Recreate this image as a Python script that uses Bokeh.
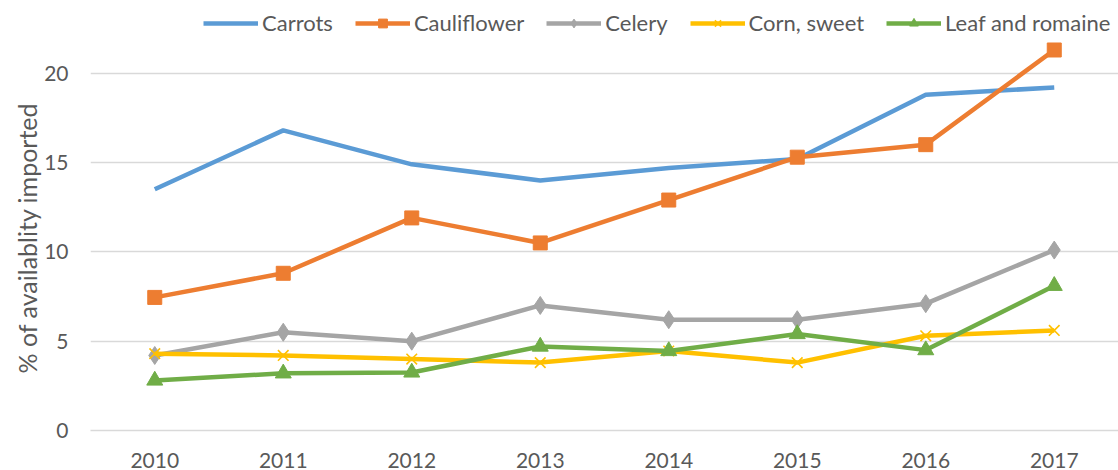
from bokeh.plotting import figure
from bokeh.models import Legend, LegendItem, FixedTicker, Range1d, Title
from bokeh.embed import file_html
from bokeh.resources import INLINE

years = [2010, 2011, 2012, 2013, 2014, 2015, 2016, 2017]
carrots = [13.5, 16.8, 14.9, 14.0, 14.7, 15.2, 18.8, 19.2]
cauliflower = [7.45, 8.8, 11.9, 10.5, 12.9, 15.3, 16.0, 21.3]
celery = [4.2, 5.5, 5.0, 7.0, 6.2, 6.2, 7.1, 10.1]
corn_sweet = [4.3, 4.2, 4.0, 3.8, 4.45, 3.8, 5.3, 5.6]
leaf_romaine = [2.8, 3.2, 3.25, 4.7, 4.45, 5.4, 4.5, 8.1]
y_ticks = [0, 5, 10, 15, 20]
y_title = "% of availablity imported"

FONT = "Lato"
TXT = "#595959"

p = figure(width=1118, height=470, output_backend="svg", toolbar_location=None,
           x_range=Range1d(2009.5, 2017.5), y_range=Range1d(0, 24.07),
           min_border_left=90, min_border_right=0, min_border_top=0, min_border_bottom=38)
p.outline_line_color = None
p.xgrid.grid_line_color = None
p.ygrid.grid_line_color = "#D9D9D9"
p.ygrid.grid_line_width = 1.3

p.yaxis.ticker = FixedTicker(ticks=y_ticks)
p.xaxis.ticker = FixedTicker(ticks=years)
for ax in (p.xaxis, p.yaxis):
    ax.major_tick_line_color = None
    ax.minor_tick_line_color = None
    ax.major_label_text_font = FONT
    ax.major_label_text_font_size = "21px"
    ax.major_label_text_color = TXT
p.yaxis.axis_line_color = None
p.xaxis.axis_line_color = "#D9D9D9"
p.xaxis.axis_line_width = 1.3
p.xaxis.major_label_standoff = 16
p.yaxis.major_label_standoff = 16

p.add_layout(Title(text=y_title, align="left", offset=57, standoff=0,
                   text_font=FONT, text_font_size="25px", text_font_style="normal",
                   text_color=TXT), "left")

items = []
lw = 4.5
r1 = p.line(years, carrots, line_color="#5B9BD5", line_width=lw)
items.append(LegendItem(label="Carrots", renderers=[r1]))

r2 = p.line(years, cauliflower, line_color="#ED7D31", line_width=lw)
m2 = p.scatter(years, cauliflower, marker="square", size=14, fill_color="#ED7D31", line_color="#ED7D31")
items.append(LegendItem(label="Cauliflower", renderers=[r2, m2]))

r3 = p.line(years, celery, line_color="#A5A5A5", line_width=lw)
m3 = p.scatter(years, celery, marker="diamond", size=18, fill_color="#A5A5A5", line_color="#A5A5A5")
items.append(LegendItem(label="Celery", renderers=[r3, m3]))

r4 = p.line(years, corn_sweet, line_color="#FFC000", line_width=lw)
m4 = p.scatter(years, corn_sweet, marker="x", size=15, line_color="#FFC000", line_width=1.6)
items.append(LegendItem(label="Corn, sweet", renderers=[r4, m4]))

r5 = p.line(years, leaf_romaine, line_color="#70AD47", line_width=lw)
m5 = p.scatter(years, leaf_romaine, marker="triangle", size=16, fill_color="#70AD47", line_color="#70AD47")
items.append(LegendItem(label="Leaf and romaine", renderers=[r5, m5]))

legend = Legend(items=items, orientation="horizontal", location=(113, 394),
                border_line_color=None, background_fill_alpha=0,
                label_text_font=FONT, label_text_font_size="22px", label_text_color=TXT,
                glyph_width=55, glyph_height=22, label_standoff=4, spacing=22,
                padding=0, margin=0, label_height=22)
p.add_layout(legend)

open("out.html", "w").write(file_html(p, INLINE))
